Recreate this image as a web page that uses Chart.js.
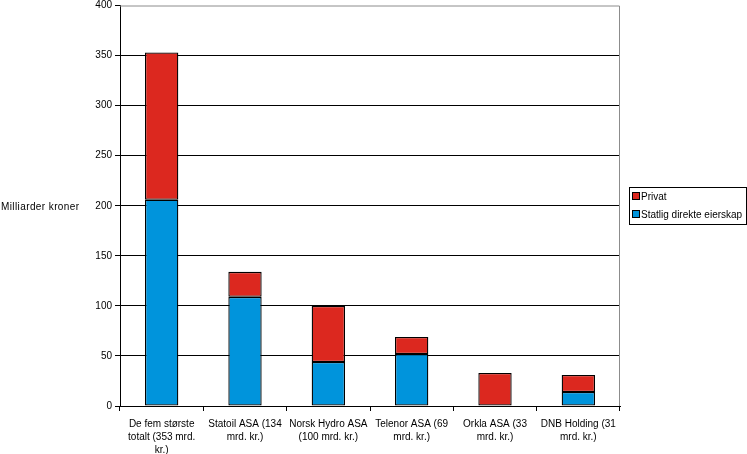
<!DOCTYPE html>
<html>
<head>
<meta charset="utf-8">
<script src="https://cdn.jsdelivr.net/npm/chart.js@4"></script>
<style>
  body { margin: 0; background: #fff; }
  #wrap { position: relative; width: 747px; height: 454px; }
</style>
</head>
<body>
<div id="wrap"><canvas id="eierskap"></canvas></div>
<script>
const categories = [
  ["De fem største", "totalt (353 mrd.", "kr.)"],
  ["Statoil ASA (134", "mrd. kr.)"],
  ["Norsk Hydro ASA", "(100 mrd. kr.)"],
  ["Telenor ASA (69", "mrd. kr.)"],
  ["Orkla ASA (33", "mrd. kr.)"],
  ["DNB Holding (31", "mrd. kr.)"],
];
const statlig = [206, 109, 44, 52, 0, 14];
const privat = [147, 25, 56, 17, 33, 17];
const yTicks = [0, 50, 100, 150, 200, 250, 300, 350, 400];

const FONT = "'Liberation Sans', Arial, sans-serif";
Chart.defaults.font.family = FONT;
Chart.defaults.font.size = 10;
Chart.defaults.color = "#000";

// axis title drawn horizontally + the boxed legend on the right
const extras = {
  id: "extras",
  afterDraw(chart) {
    const ctx = chart.ctx;
    const area = chart.chartArea;
    const y = chart.scales.y;

    ctx.save();
    ctx.strokeStyle = "#8c8c8c";
    ctx.lineWidth = 1;
    ctx.beginPath();
    ctx.moveTo(area.left, area.top + 0.5);
    ctx.lineTo(area.right - 0.5, area.top + 0.5);
    ctx.lineTo(area.right - 0.5, area.bottom);
    ctx.stroke();

    ctx.fillStyle = "#000";
    ctx.font = "10px " + FONT;
    ctx.textBaseline = "middle";
    ctx.textAlign = "left";
    ctx.letterSpacing = "0.4px";
    ctx.fillText("Milliarder kroner", 1, y.getPixelForValue(200) + 1);
    ctx.letterSpacing = "0px";

    // legend
    const lx = 629, ly = 187, lw = 117, lh = 37;
    ctx.strokeStyle = "#000";
    ctx.strokeRect(lx + 0.5, ly + 0.5, lw, lh);
    const items = chart.data.datasets.slice().reverse();
    items.forEach((ds, i) => {
      const ry = ly + 9 + i * 18;
      ctx.fillStyle = ds.backgroundColor;
      ctx.fillRect(lx + 3, ry - 3, 7, 7);
      ctx.strokeRect(lx + 3.5, ry - 3.5, 7, 7);
      ctx.fillStyle = "#000";
      ctx.fillText(ds.label, lx + 12, ry + 1);
    });
    ctx.restore();
  }
};

const barStyle = {
  borderColor: "#000",
  borderWidth: 1.3,
  borderSkipped: false,
  inflateAmount: 0,
  categoryPercentage: 0.8,
  barPercentage: 0.5,
};

new Chart(document.getElementById("eierskap"), {
  type: "bar",
  data: {
    labels: categories,
    datasets: [
      { label: "Statlig direkte eierskap", data: statlig, backgroundColor: "#0094dc", ...barStyle },
      { label: "Privat", data: privat, backgroundColor: "#dc281f", ...barStyle },
    ],
  },
  options: {
    responsive: true,
    maintainAspectRatio: false,
    animation: false,
    layout: { padding: { top: 4, right: 127, left: 0, bottom: 0 } },
    plugins: {
      legend: { display: false },
      tooltip: { enabled: false },
    },
    scales: {
      x: {
        stacked: true,
        grid: {
          offset: true,
          drawOnChartArea: false,
          drawTicks: true,
          tickLength: 5,
          color: "#000",
        },
        border: { color: "#000" },
        ticks: {
          padding: 7,
          maxRotation: 0,
          autoSkip: false,
          font: { size: 10, lineHeight: 1.3 },
        },
        afterFit(scale) { scale.height = 48; },
      },
      y: {
        stacked: true,
        min: 0,
        max: 400,
        afterBuildTicks(scale) {
          scale.ticks = yTicks.map(v => ({ value: v }));
        },
        grid: {
          color: ctx => (ctx.tick && ctx.tick.value === 400 ? "rgba(0,0,0,0)" : "#000"),
          tickColor: "#000",
          tickLength: 5,
        },
        border: { color: "#000" },
        ticks: { padding: 3, font: { size: 10, lineHeight: 0.5 } },
        afterFit(scale) { scale.width = 120; },
      },
    },
  },
  plugins: [extras],
});
</script>
</body>
</html>
